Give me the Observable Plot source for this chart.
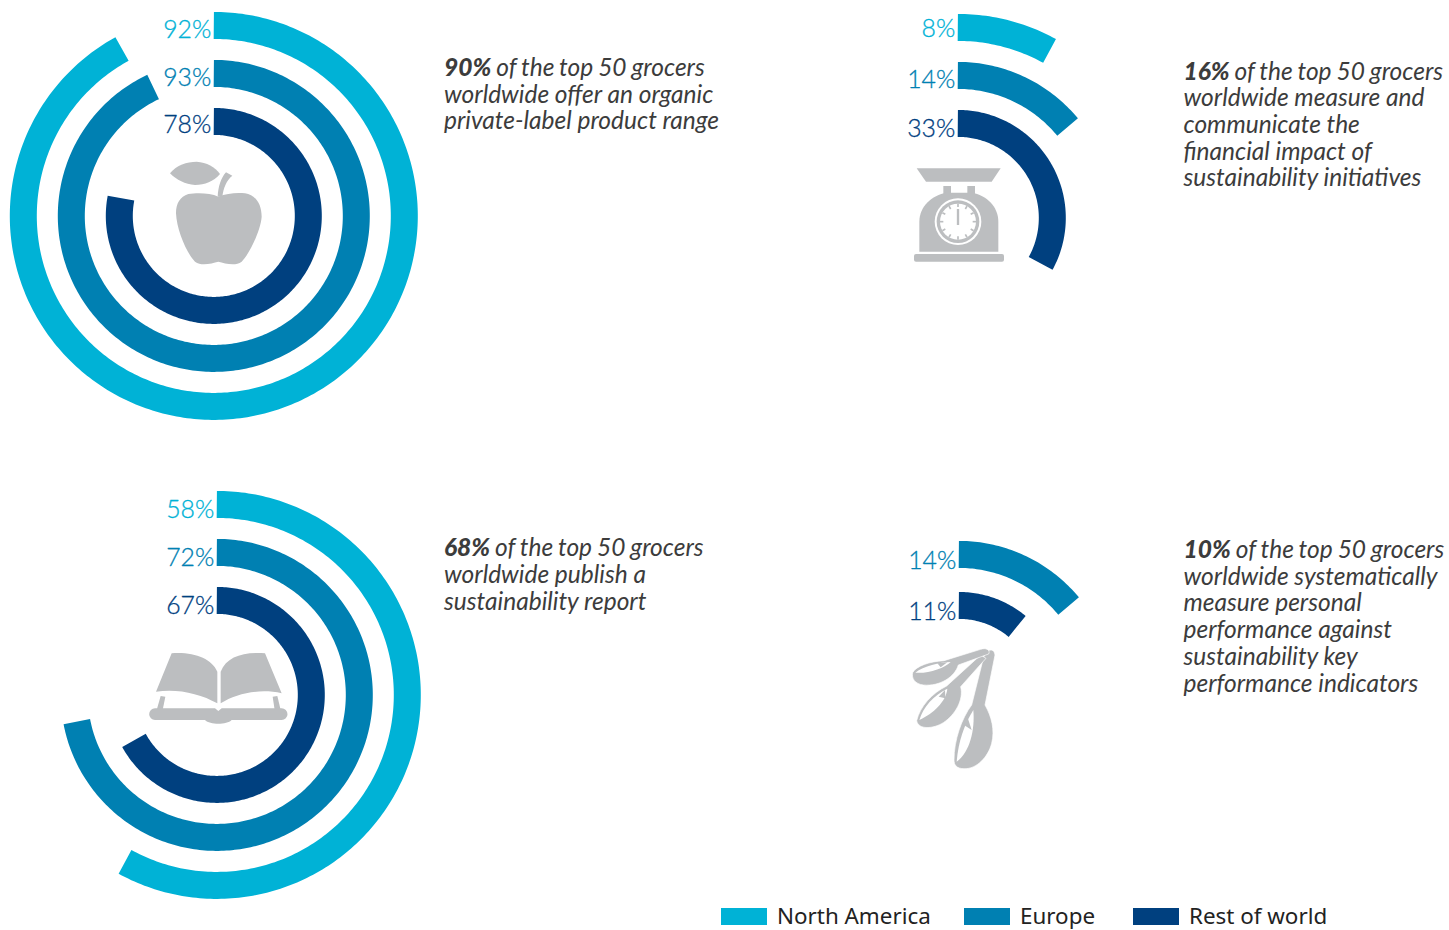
<!DOCTYPE html>
<html lang="en">
<head>
<meta charset="utf-8">
<title>Sustainability practices of the top 50 grocers</title>
<script src="https://cdn.jsdelivr.net/npm/d3@7"></script>
<script src="https://cdn.jsdelivr.net/npm/@observablehq/plot@0.6"></script>
<style>
  html, body { margin: 0; padding: 0; background: #fff; overflow: hidden; }
  #page { position: relative; width: 1449px; height: 930px; }
  #page svg { display: block; }
  .callout { position: absolute; font: italic 400 24.5px/26.7px Lato, sans-serif; color: #3c3c3c; white-space: nowrap; }
  .callout b { font-weight: 900; }
  .callout span { word-spacing: -0.8px; }
  .legend-item { position: absolute; top: 0; display: flex; align-items: center; height: 28px; font: 400 22.4px/26px "Noto Sans", sans-serif; color: #222; white-space: nowrap; }
  .legend-item i { display: block; width: 46px; height: 17px; margin-right: 10px; }
  #legend { position: absolute; left: 0; top: 902px; width: 1449px; height: 28px; }
</style>
</head>
<body>
<div id="page"></div>
<script>
// Share of grocers per region, in percent; null where a region has no figure.
const regions = ["North America", "Europe", "Rest of world"];
const regionColors = ["#00b2d6", "#0080b2", "#00407f"];
const organicRange = [92, 93, 78];
const financialImpact = [8, 14, 33];
const sustainabilityReport = [58, 72, 67];
const performanceKpis = [null, 14, 11];

const callouts = [
  ["90%", " of the top 50 grocers", "worldwide offer an organic", "private-label product range"],
  ["16%", " of the top 50 grocers", "worldwide measure and", "communicate the", "financial impact of", "sustainability initiatives"],
  ["68%", " of the top 50 grocers", "worldwide publish a", "sustainability report"],
  ["10%", " of the top 50 grocers", "worldwide systematically", "measure personal", "performance against", "sustainability key", "performance indicators"]
];

// Layout: ring centre, ring radii and text placement for each panel.
const panels = [
  {values: organicRange, cx: 213.3, cy: 215.4, radii: [190.5, 142.5, 94.5], nudge: [5, 5, 4], textX: 444, textY: 54},
  {values: financialImpact, cx: 957.3, cy: 217.4, radii: [190.5, 142.5, 94.5], nudge: [2, 5, 6], textX: 1183.5, textY: 57.5},
  {values: sustainabilityReport, cx: 216.3, cy: 694.4, radii: [190.5, 142.5, 94.5], nudge: [6, 6, 6], textX: 444, textY: 534.3},
  {values: performanceKpis, cx: 958.3, cy: 696.4, radii: [190.5, 142.5, 91.5], nudge: [0, 7, 7], textX: 1183.5, textY: 536}
];
const ringWidth = 27;
const chartHeight = 902;

const segments = [];
const labels = [];
panels.forEach((panel, p) => {
  panel.values.forEach((value, r) => {
    if (value == null) return;
    const radius = panel.radii[r];
    const sweep = value * 3.6;
    const steps = Math.ceil(sweep);
    for (let s = 0; s <= steps; ++s) {
      const angle = (sweep * s / steps) * Math.PI / 180;
      segments.push({
        arc: `${p}-${r}`,
        region: regions[r],
        x: panel.cx + radius * Math.sin(angle),
        y: panel.cy - radius * Math.cos(angle)
      });
    }
    labels.push({
      region: regions[r],
      text: `${value}%`,
      x: panel.cx - 2.5,
      y: panel.cy - radius + panel.nudge[r]
    });
  });
});

// Grey pictograms, each drawn in a local coordinate system three times finer than the page.
const grey = "#bcbec0";
function pictogram(x0, y0, draw) {
  return (index, {x, y}) => {
    const g = d3.create("svg:g")
      .attr("transform", `translate(${x(x0)},${y(y0)}) scale(${1 / 3})`)
      .attr("fill", grey);
    draw(g);
    return g.node();
  };
}
const shapes = (g, paths) => paths.forEach(d => g.append("path").attr("d", d));

const apple = pictogram(130, 0, g => shapes(g, [
  "M265,590C240,578 200,578 175,582C150,590 138,610 138,640C140,690 170,760 195,785C215,800 245,790 265,785C285,790 315,800 335,785C360,760 392,690 395,650C395,610 375,585 345,580C320,577 290,580 265,590Z",
  "M120,520C140,495 170,485 200,485C230,487 255,500 270,522C250,545 225,555 195,555C165,553 140,540 120,520Z",
  "M263,590C265,560 272,535 288,517L307,527C290,540 280,565 277,590Z"
]));

const scale = pictogram(890, 0, g => {
  shapes(g, [
    "M80,505L332,505L305,545L108,545Z",
    "M160,558L183,558L183,590L160,590Z",
    "M232,558L255,558L255,590L232,590Z",
    "M88,755L88,665C88,620 125,585 170,578L245,578C290,585 325,620 325,665L325,755Z"
  ]);
  g.append("rect").attr("x", 72).attr("y", 762).attr("width", 270).attr("height", 23).attr("rx", 6);
  const dial = g.append("g").attr("transform", "translate(204,665)");
  dial.append("circle").attr("r", 70).attr("fill", "#fff");
  dial.append("circle").attr("r", 64).attr("fill", grey);
  dial.append("circle").attr("r", 54).attr("fill", "#fff");
  d3.range(12).forEach(h => dial.append("line")
    .attr("y1", -54).attr("y2", -44)
    .attr("stroke", grey).attr("stroke-width", 5)
    .attr("transform", `rotate(${h * 30})`));
  dial.append("line").attr("y1", -38).attr("y2", 10).attr("stroke", grey).attr("stroke-width", 7);
});

const book = pictogram(130, 480, g => shapes(g, [
  "M262,670L262,575C245,535 190,515 125,520L78,635C140,625 210,640 262,670Z",
  "M272,670L272,575C290,530 340,515 405,520L455,640C390,625 320,640 272,670Z",
  "M75,685L255,685L265,693L275,685L455,685A17,17 0 0 1 455,720L305,720C290,735 240,735 225,720L75,720A17,17 0 0 1 75,685Z",
  "M80,690L92,648L106,650L98,690Z",
  "M428,650L442,648L452,690L434,690Z"
]));

const spoons = pictogram(890, 530, g => {
  const spoon = (body, hollow, fold) => {
    g.append("path").attr("d", body).attr("stroke", "#fff").attr("stroke-width", 2);
    g.append("path").attr("d", hollow).attr("fill", "#fff");
    g.append("path").attr("d", fold);
  };
  spoon("M192,690C192,630 215,565 245,525L280,385C288,358 312,350 315,375L285,525C305,560 315,600 305,640C295,680 260,718 222,716C200,716 192,705 192,690Z",
        "M200,695C205,635 222,585 250,540C255,600 240,665 200,695Z",
        "M222,585L232,560L245,600Z");
  spoon("M80,572C90,530 125,490 170,468L272,375L288,385L212,470C222,510 195,555 160,578C130,597 85,600 80,572Z",
        "M88,570C100,530 130,497 172,476C168,515 130,550 88,570Z",
        "M146,500L165,480L166,505Z");
  spoon("M68,428C78,408 120,394 162,392L272,358C288,352 302,360 296,372L205,405C195,440 150,470 100,465C75,462 64,445 68,428Z",
        "M76,428C100,408 150,397 182,396C165,415 110,432 76,428Z",
        "M142,400L172,397L152,412Z");
});

const chart = Plot.plot({
  width: 1449,
  height: chartHeight,
  margin: 0,
  x: {domain: [0, 1449], range: [0, 1449], axis: null},
  y: {domain: [0, chartHeight], range: [0, chartHeight], axis: null},
  color: {domain: regions, range: regionColors},
  marks: [
    Plot.line(segments, {
      x: "x", y: "y", z: "arc", stroke: "region",
      strokeWidth: ringWidth, strokeLinecap: "butt", strokeLinejoin: "round", curve: "linear"
    }),
    Plot.text(labels, {
      x: "x", y: "y", text: "text", fill: "region", stroke: "region", strokeWidth: 0.3, textAnchor: "end",
      fontFamily: "Lato", fontWeight: 300, fontSize: 24.8
    }),
    apple, scale, book, spoons
  ]
});

const page = document.getElementById("page");
page.appendChild(chart);

// Callout paragraphs with a bold lead figure.
callouts.forEach(([lead, rest, ...lines], i) => {
  const div = document.createElement("div");
  div.className = "callout";
  div.style.left = panels[i].textX + "px";
  div.style.top = panels[i].textY + "px";
  const b = document.createElement("b");
  b.textContent = lead;
  div.appendChild(b);
  const first = document.createElement("span");
  first.textContent = rest;
  div.appendChild(first);
  lines.forEach(line => {
    div.appendChild(document.createElement("br"));
    div.appendChild(document.createTextNode(line));
  });
  page.appendChild(div);
});

// Region key below the chart.
const legendOffsets = [721, 964, 1133];
const legend = document.createElement("div");
legend.id = "legend";
regions.forEach((name, i) => {
  const item = document.createElement("div");
  item.className = "legend-item";
  item.style.left = legendOffsets[i] + "px";
  const swatch = document.createElement("i");
  swatch.style.background = regionColors[i];
  item.appendChild(swatch);
  item.appendChild(document.createTextNode(name));
  legend.appendChild(item);
});
page.appendChild(legend);
</script>
</body>
</html>
